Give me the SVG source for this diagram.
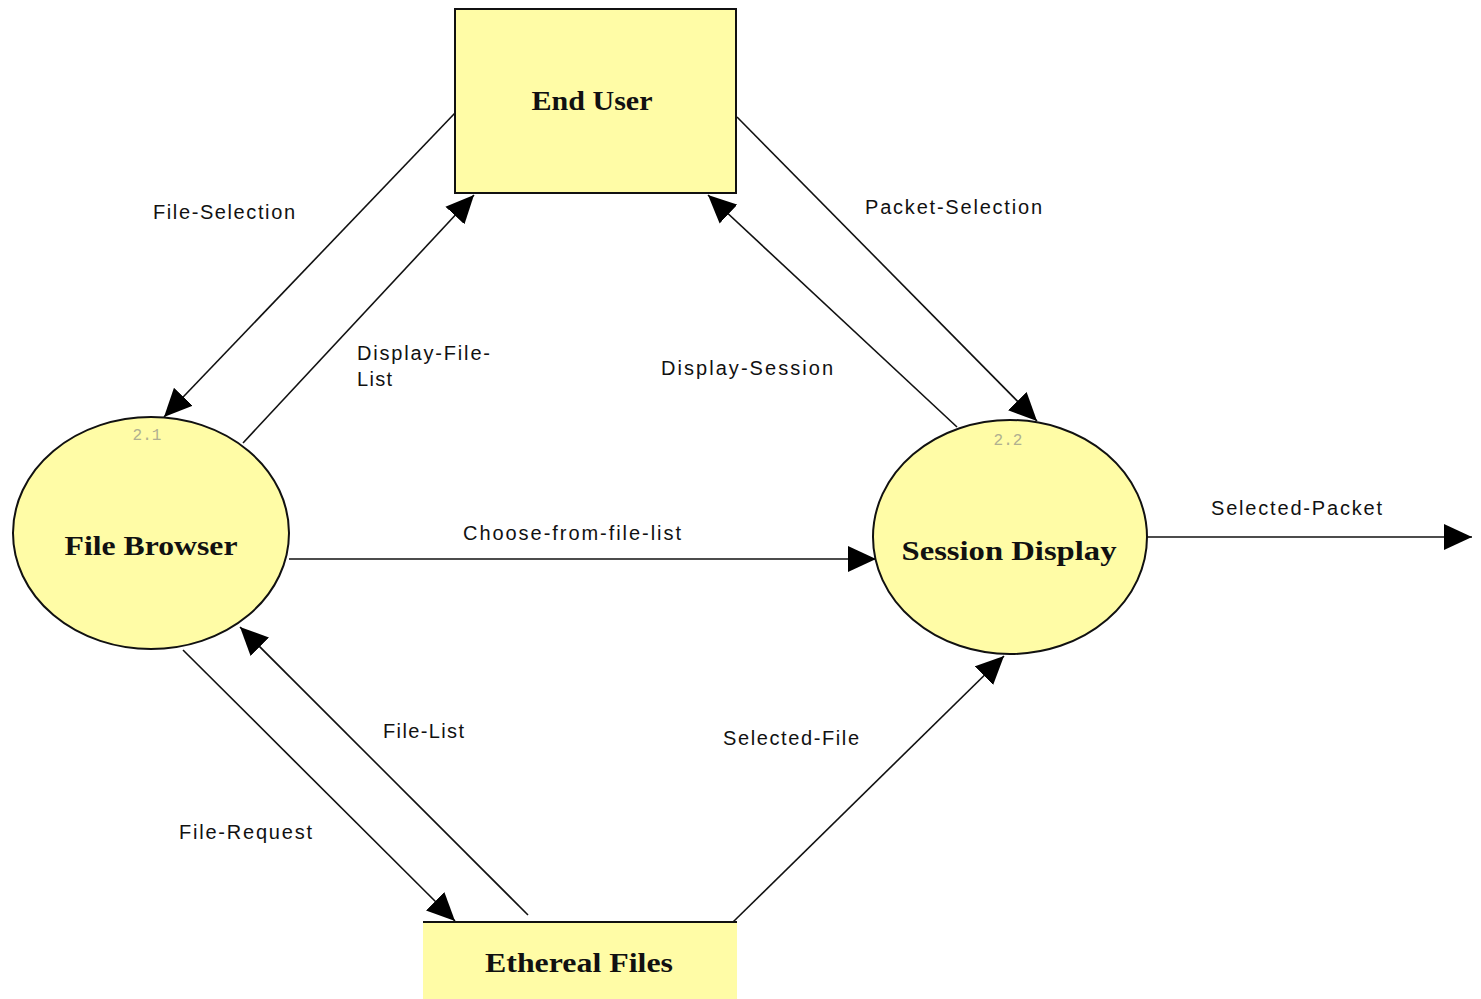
<svg xmlns="http://www.w3.org/2000/svg" width="1481" height="999" viewBox="0 0 1481 999">
<style>
.node{fill:#fffca6;stroke:#111;stroke-width:2}
.nl{font-family:"Liberation Serif",serif;font-weight:bold;font-size:28px;fill:#111;text-anchor:middle}
.lbl{font-family:"Liberation Sans",sans-serif;font-size:20px;fill:#111}
.num{font-family:"Liberation Mono",monospace;font-size:16px;fill:#b0b090;text-anchor:middle}
.c{stroke:#111;stroke-width:1.6;fill:none;marker-end:url(#ah)}
</style>
<defs>
<marker id="ah" markerUnits="userSpaceOnUse" markerWidth="30" markerHeight="26" refX="28" refY="13" orient="auto">
<path d="M0,0 L28,13 L0,26 Z" fill="#000"/>
</marker>
</defs>
<rect width="1481" height="999" fill="#fff"/>
<g id="connectors">
<line class="c" x1="455" y1="113" x2="164" y2="417"/>
<line class="c" x1="243" y1="443" x2="474" y2="195"/>
<line class="c" x1="737" y1="117" x2="1037" y2="421"/>
<line class="c" x1="957" y1="427" x2="708" y2="195"/>
<line class="c" x1="289" y1="559" x2="876" y2="559"/>
<line class="c" x1="1147" y1="537" x2="1472" y2="537"/>
<line class="c" x1="183" y1="650" x2="455" y2="921"/>
<line class="c" x1="528" y1="915" x2="240" y2="627"/>
<line class="c" x1="733" y1="922" x2="1004" y2="656"/>
<text class="lbl" x="153" y="219" textLength="142" lengthAdjust="spacing">File-Selection</text>
<text class="lbl" x="865" y="214" textLength="177" lengthAdjust="spacing">Packet-Selection</text>
<text class="lbl" x="357" y="360" textLength="133" lengthAdjust="spacing">Display-File-</text>
<text class="lbl" x="357" y="386" textLength="35" lengthAdjust="spacing">List</text>
<text class="lbl" x="661" y="375" textLength="172" lengthAdjust="spacing">Display-Session</text>
<text class="lbl" x="463" y="540" textLength="218" lengthAdjust="spacing">Choose-from-file-list</text>
<text class="lbl" x="1211" y="515" textLength="171" lengthAdjust="spacing">Selected-Packet</text>
<text class="lbl" x="383" y="738" textLength="81" lengthAdjust="spacing">File-List</text>
<text class="lbl" x="723" y="745" textLength="136" lengthAdjust="spacing">Selected-File</text>
<text class="lbl" x="179" y="839" textLength="133" lengthAdjust="spacing">File-Request</text>
</g>
<g id="end-user">
<rect class="node" x="455" y="9" width="281" height="184"/>
<text class="nl" x="592" y="110" textLength="121" lengthAdjust="spacingAndGlyphs">End User</text>
</g>
<g id="file-browser">
<ellipse class="node" cx="151" cy="533" rx="138" ry="116"/>
<text class="num" x="147" y="440">2.1</text>
<text class="nl" x="151" y="555" textLength="173" lengthAdjust="spacingAndGlyphs">File Browser</text>
</g>
<g id="session-display">
<ellipse class="node" cx="1010" cy="537" rx="137" ry="117"/>
<text class="num" x="1008" y="445">2.2</text>
<text class="nl" x="1009" y="560" textLength="215" lengthAdjust="spacingAndGlyphs">Session Display</text>
</g>
<g id="ethereal-files">
<rect x="423" y="922" width="314" height="80" fill="#fffca6"/>
<line x1="423" y1="922" x2="737" y2="922" stroke="#111" stroke-width="2"/>
<text class="nl" x="579" y="972" textLength="188" lengthAdjust="spacingAndGlyphs">Ethereal Files</text>
</g>
</svg>
